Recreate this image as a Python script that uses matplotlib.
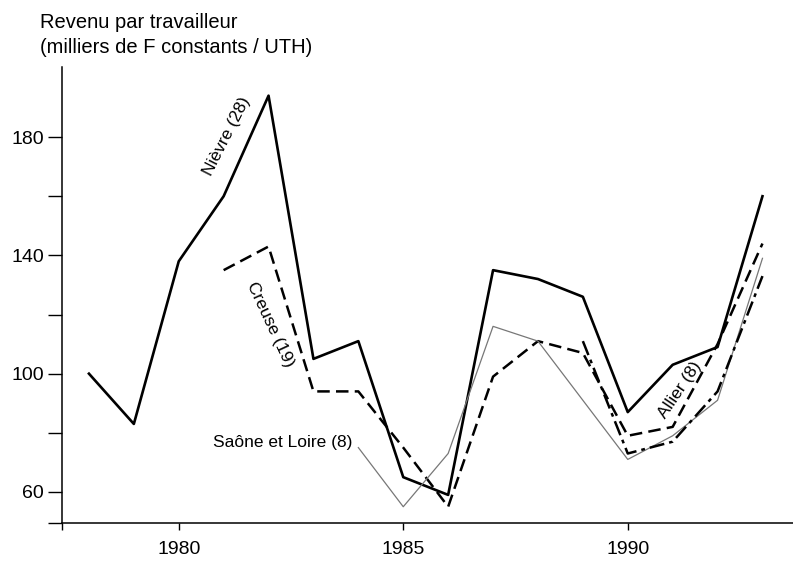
import matplotlib.pyplot as plt


# Data

years = list(range(1978, 1994))

nievre = [100, 83, 138, 160, 194, 105, 111, 65,
          59, 135, 132, 126, 87, 103, 109, 160]

creuse_years = list(range(1981, 1994))
creuse = [135, 143, 94, 94, 75, 55, 99,
          111, 107, 79, 82, 110, 144]

saone_years = list(range(1984, 1994))
saone = [75, 55, 73, 116, 111, 91, 71, 79, 91, 139]

allier_years = list(range(1989, 1994))
allier = [111, 73, 77, 94, 133]

x_ticks = [1980, 1985, 1990]
y_ticks = [60, 80, 100, 120, 140, 160, 180]
y_tick_labels = ["60", "", "100", "", "140", "", "180"]

x_min, x_max = 1977.4, 1993.68
y_min, y_max = 49.5, 203.7


plt.rcParams["font.family"] = ["Liberation Sans", "DejaVu Sans"]

fig = plt.figure(figsize=(7.93, 5.66), dpi=100)
ax = fig.add_axes([62 / 793, 43 / 566, 731 / 793, 456 / 566])


# Series

ax.plot(years, nievre, color="black", linewidth=1.9)

ax.plot(
    creuse_years,
    creuse,
    color="black",
    linewidth=1.8,
    linestyle=(0, (5, 2.5))
)

ax.plot(saone_years, saone, color="#777777", linewidth=0.9)

ax.plot(
    allier_years,
    allier,
    color="black",
    linewidth=1.8,
    linestyle=(0, (6, 2, 1.5, 2))
)


# Labels next to the lines

ax.text(1981.07, 180.3, "Nièvre (28)", rotation=63,
        ha="center", va="center", fontsize=12.5)

ax.text(1982.03, 116.6, "Creuse (19)", rotation=-65,
        ha="center", va="center", fontsize=12.5)

ax.text(1980.76, 76.6, "Saône et Loire (8)",
        ha="left", va="center", fontsize=12.5)

ax.text(1991.15, 94.6, "Allier (8)", rotation=56,
        ha="center", va="center", fontsize=12.5)


# Axes

ax.set_xlim(x_min, x_max)
ax.set_ylim(y_min, y_max)

# The extra ticks at the limits draw the short overhang of
# each axis line past the corner.
ax.set_xticks([x_min] + x_ticks)
ax.set_xticklabels([""] + [str(v) for v in x_ticks], fontsize=14)
ax.set_yticks([y_min] + y_ticks)
ax.set_yticklabels([""] + y_tick_labels, fontsize=14)

ax.tick_params(axis="x", length=5, width=1, pad=8)
ax.tick_params(axis="y", length=10, width=1, pad=3)

ax.spines["top"].set_visible(False)
ax.spines["right"].set_visible(False)
ax.spines["left"].set_linewidth(1.1)
ax.spines["bottom"].set_linewidth(1.1)


# Axis title in the top left corner

fig.text(40 / 793, 1 - 28 / 566, "Revenu par travailleur",
         fontsize=14.5, va="baseline")
fig.text(40 / 793, 1 - 53 / 566, "(milliers de F constants / UTH)",
         fontsize=14.5, va="baseline")

fig.savefig("out.png", dpi=100)
